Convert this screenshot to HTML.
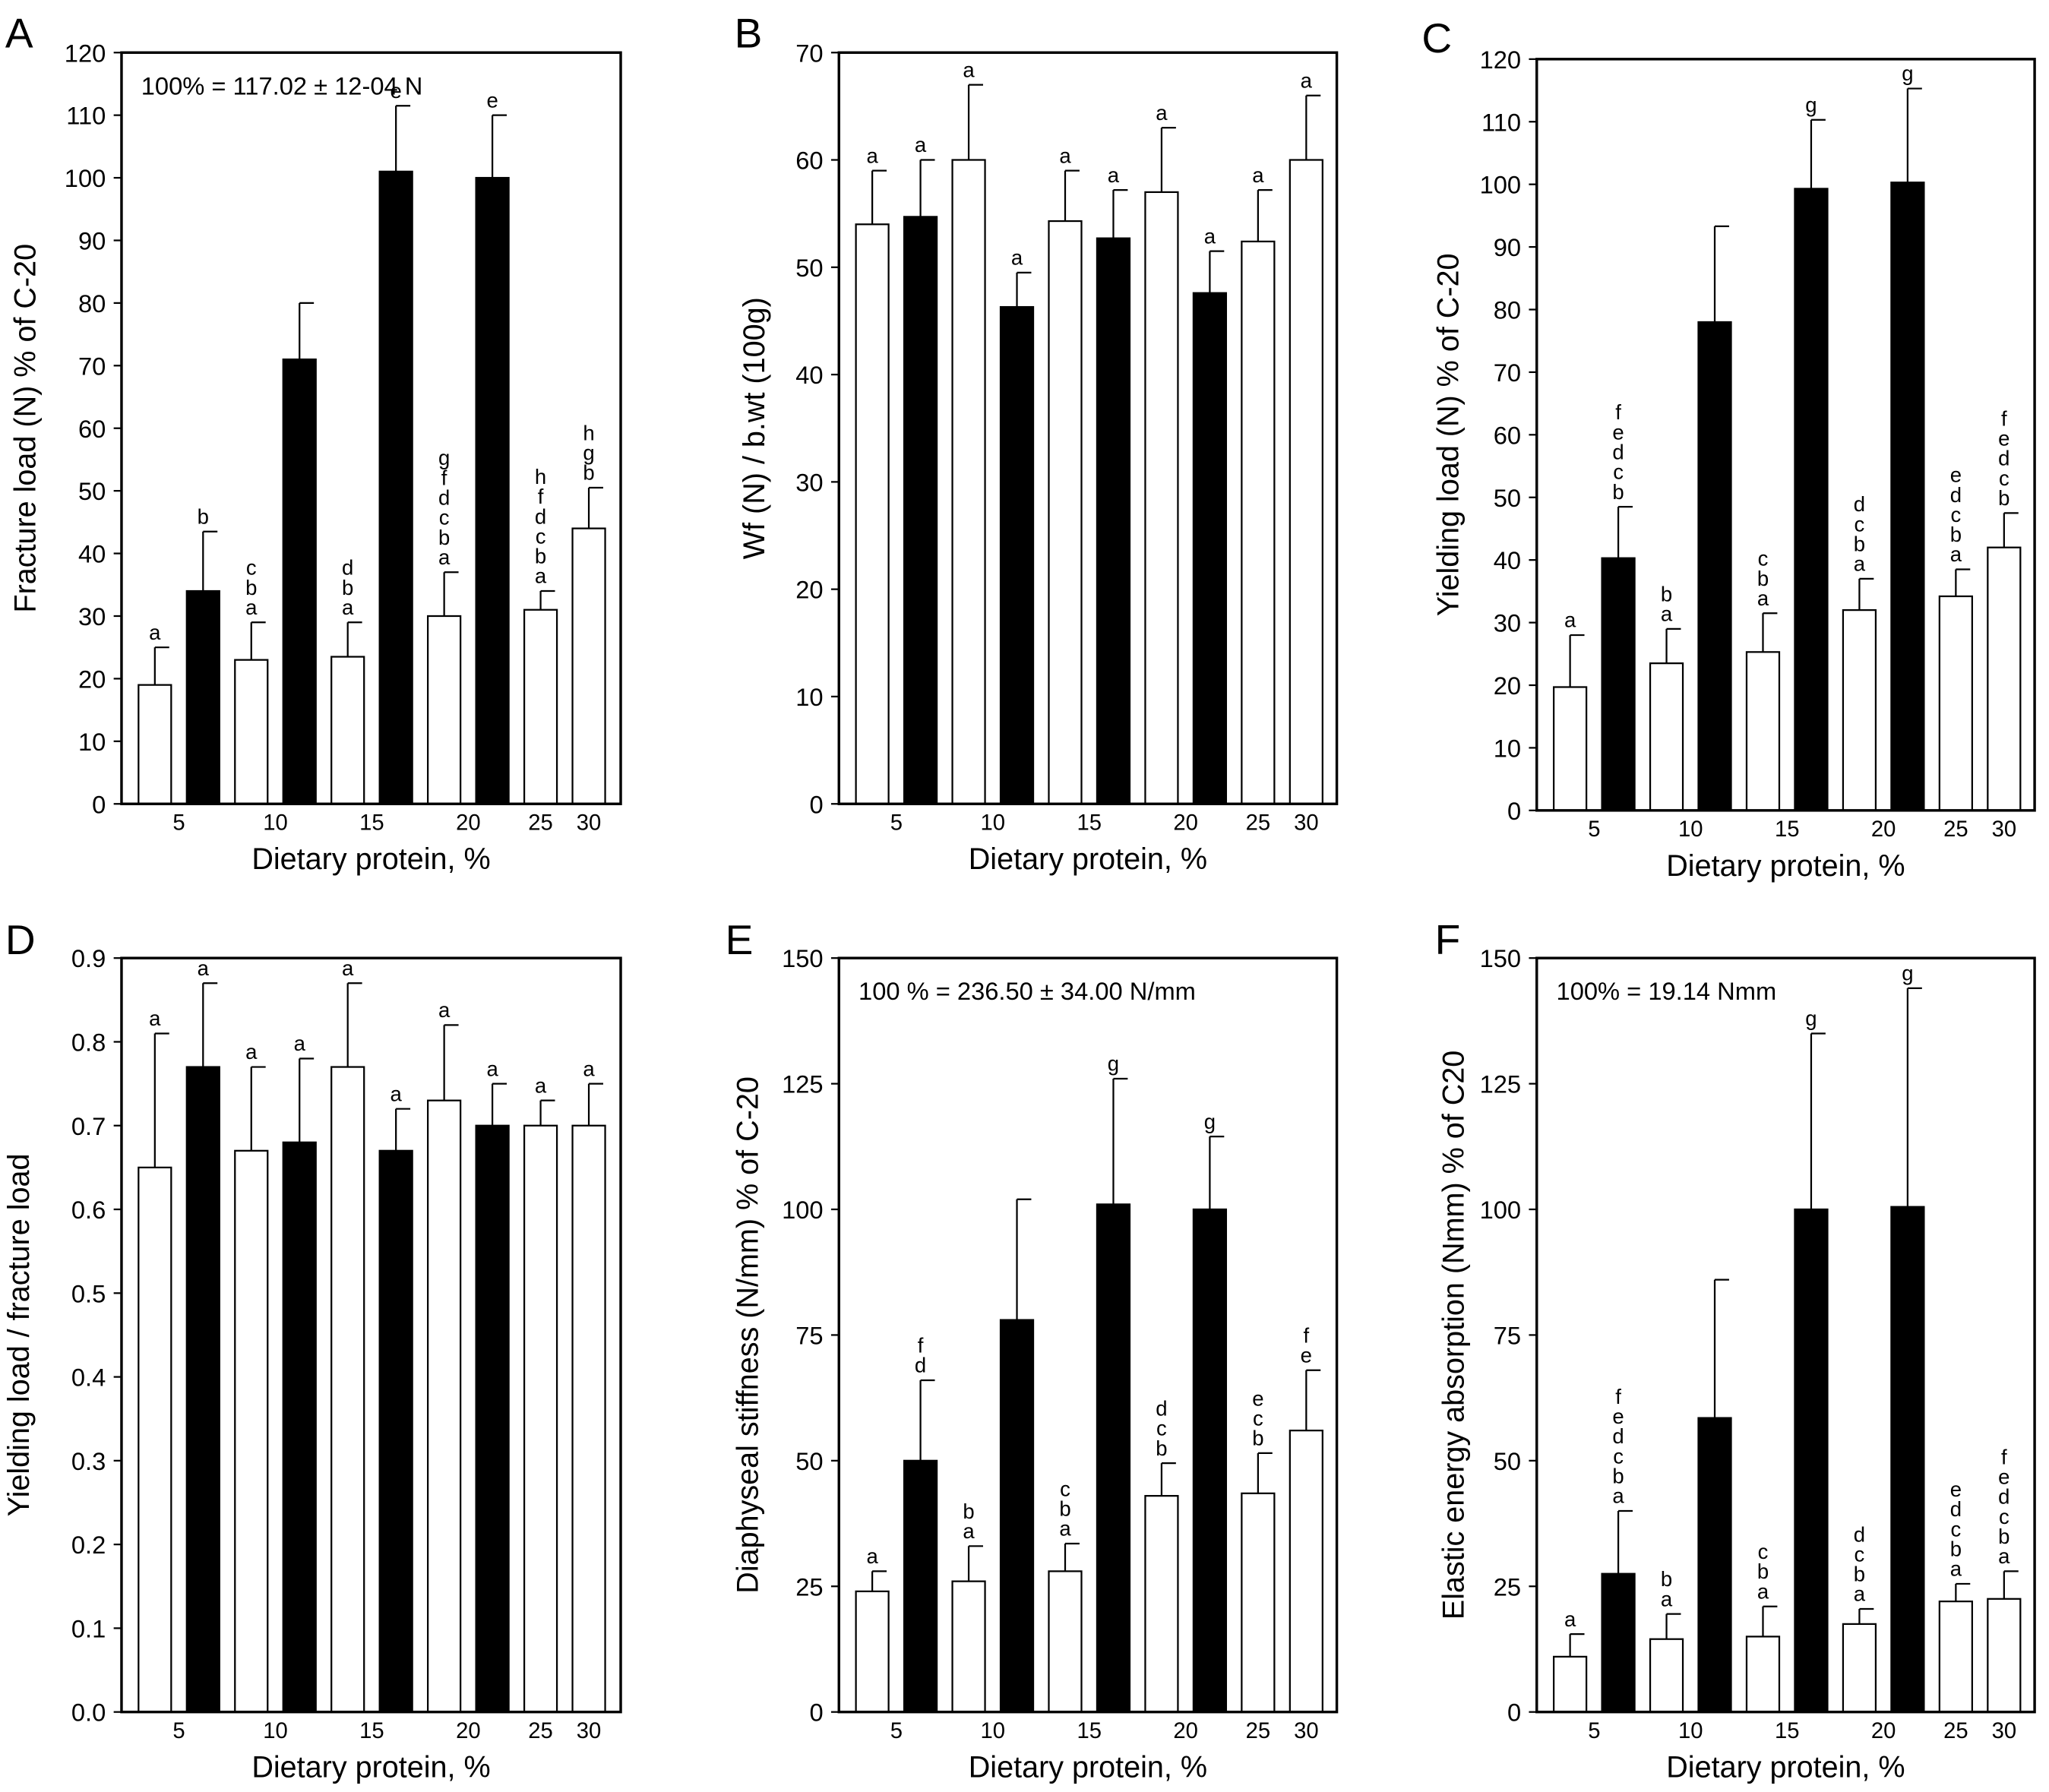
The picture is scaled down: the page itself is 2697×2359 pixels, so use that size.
<!DOCTYPE html>
<html><head><meta charset="utf-8"><style>
html,body{margin:0;padding:0;background:#fff;}
svg{display:block;font-family:"Liberation Sans",Arial,sans-serif;}
</style></head><body>
<svg id="fig" width="2697" height="2359" viewBox="0 0 1568 1371" xmlns="http://www.w3.org/2000/svg"></svg>
<script>
const categories = ["5","10","15","20","25","30"];
const catIndex = [0.5, 2.5, 4.5, 6.5, 8, 9];
const fills = ["w","b","w","b","w","b","w","b","w","w"];

const aValues = [19,34,23,71,23.5,101,30,100,31,44];
const aErrors = [25,43.5,29,80,29,111.5,37,110,34,50.5];
const aLetters = [["a"],["b"],["c","b","a"],[],["d","b","a"],["e"],["g","f","d","c","b","a"],["e"],["h","f","d","c","b","a"],["h","g","b"]];
const aTicks = [0,10,20,30,40,50,60,70,80,90,100,110,120];

const bValues = [54,54.7,60,46.3,54.3,52.7,57,47.6,52.4,60];
const bErrors = [59,60,67,49.5,59,57.2,63,51.5,57.2,66];
const bLetters = [["a"],["a"],["a"],["a"],["a"],["a"],["a"],["a"],["a"],["a"]];
const bTicks = [0,10,20,30,40,50,60,70];

const cValues = [19.7,40.3,23.5,78,25.3,99.3,32,100.3,34.2,42];
const cErrors = [28,48.5,29,93.3,31.5,110.3,37,115.3,38.5,47.5];
const cLetters = [["a"],["f","e","d","c","b"],["b","a"],[],["c","b","a"],["g"],["d","c","b","a"],["g"],["e","d","c","b","a"],["f","e","d","c","b"]];
const cTicks = [0,10,20,30,40,50,60,70,80,90,100,110,120];

const dValues = [0.65,0.77,0.67,0.68,0.77,0.67,0.73,0.70,0.70,0.70];
const dErrors = [0.81,0.87,0.77,0.78,0.87,0.72,0.82,0.75,0.73,0.75];
const dLetters = [["a"],["a"],["a"],["a"],["a"],["a"],["a"],["a"],["a"],["a"]];
const dTicks = [0,0.1,0.2,0.3,0.4,0.5,0.6,0.7,0.8,0.9];

const eValues = [24,50,26,78,28,101,43,100,43.5,56];
const eErrors = [28,66,33,102,33.5,126,49.5,114.5,51.5,68];
const eLetters = [["a"],["f","d"],["b","a"],[],["c","b","a"],["g"],["d","c","b"],["g"],["e","c","b"],["f","e"]];
const eTicks = [0,25,50,75,100,125,150];

const fValues = [11,27.5,14.5,58.5,15,100,17.5,100.5,22,22.5];
const fErrors = [15.5,40,19.5,86,21,135,20.5,144,25.5,28];
const fLetters = [["a"],["f","e","d","c","b","a"],["b","a"],[],["c","b","a"],["g"],["d","c","b","a"],["g"],["e","d","c","b","a"],["f","e","d","c","b","a"]];
const fTicks = [0,25,50,75,100,125,150];

const NS="http://www.w3.org/2000/svg";
const svg=document.getElementById('fig');
function mk(tag,attrs,parent,text){const e=document.createElementNS(NS,tag);for(const k in attrs)e.setAttribute(k,attrs[k]);if(text!==undefined)e.textContent=text;(parent||svg).appendChild(e);return e;}

function panel(p){
  const g=mk('g',{});
  
  
  const L=p.x0,R=p.x1,T=p.y0,B=p.y1;
  const ys=v=>B-(v-p.min)/(p.max-p.min)*(B-T);
  const xs=i=>L+25.5+i*36.9;
  const t=mk('text',{x:p.lx,y:p.ly,'font-size':32},g,p.id);
  
  
  p.values.forEach((v,i)=>{
    const x=xs(i),top=ys(v),et=ys(p.errors[i]);
    const ln=mk('line',{x1:x,x2:x,y1:top,y2:et,stroke:'#000','stroke-width':1.3},g);
    
    
    const cap=mk('line',{x1:x,x2:x+11,y1:et,y2:et,stroke:'#000','stroke-width':1.3},g);
    
    
    const r=mk('rect',{x:x-12.5,y:top,width:25,height:B-top,fill:fills[i]==='b'?'#000':'#fff',stroke:'#000','stroke-width':1.3},g);
    
    
    const lets=p.letters[i];
    lets.forEach((l,k)=>{
      const yy=et-6-(lets.length-1-k)*15.2;
      const tt=mk('text',{x:x,y:yy,'font-size':16,'text-anchor':'middle'},g,l);
      
      
    });
  });
  const bx=mk('rect',{x:L,y:T,width:R-L,height:B-T,fill:'none',stroke:'#000','stroke-width':2},g);
  
  
  p.ticks.forEach(v=>{
    const y=ys(v);
    const tk=mk('line',{x1:L-6,x2:L,y1:y,y2:y,stroke:'#000','stroke-width':1.3},g);
    
    
    const tl=mk('text',{x:L-12,y:y+7,'font-size':19,'text-anchor':'end'},g,p.fmt?p.fmt(v):String(v));
    
    
  });
  categories.forEach((c,k)=>{
    const x=xs(catIndex[k]);
    const tl=mk('text',{x:x,y:B+20,'font-size':17,'text-anchor':'middle'},g,c);
    
    
  });
  const xl=mk('text',{x:(L+R)/2,y:B+50,'font-size':23,'text-anchor':'middle'},g,'Dietary protein, %');
  
  
  const yx=p.ylx,yy=(T+B)/2;
  const yl=mk('text',{x:yx,y:yy,'font-size':23,'text-anchor':'middle',transform:`rotate(-90 ${yx} ${yy})`},g,p.ylabel);
  
  
  if(p.note){
    const n=mk('text',{x:L+15,y:T+32,'font-size':19},g,p.note);
    
    
  }
}
const fmt1=v=>v.toFixed(1);
panel({id:'A',x0:93,x1:475,y0:40,y1:615,min:0,max:120,values:aValues,errors:aErrors,letters:aLetters,ticks:aTicks,lx:4,ly:36,ylx:27,ylabel:'Fracture load (N) % of C-20',note:'100% = 117.02 ± 12-04 N'});
panel({id:'B',x0:642,x1:1023,y0:40,y1:615,min:0,max:70,values:bValues,errors:bErrors,letters:bLetters,ticks:bTicks,lx:562,ly:36,ylx:585,ylabel:'Wf (N) / b.wt (100g)'});
panel({id:'C',x0:1176,x1:1557,y0:45,y1:620,min:0,max:120,values:cValues,errors:cErrors,letters:cLetters,ticks:cTicks,lx:1088,ly:40,ylx:1116,ylabel:'Yielding load (N) % of C-20'});
panel({id:'D',x0:93,x1:475,y0:733,y1:1310,min:0,max:0.9,values:dValues,errors:dErrors,letters:dLetters,ticks:dTicks,fmt:fmt1,lx:4,ly:730,ylx:22,ylabel:'Yielding load / fracture load'});
panel({id:'E',x0:642,x1:1023,y0:733,y1:1310,min:0,max:150,values:eValues,errors:eErrors,letters:eLetters,ticks:eTicks,lx:555,ly:730,ylx:580,ylabel:'Diaphyseal stiffness (N/mm) % of C-20',note:'100 % = 236.50 ± 34.00 N/mm'});
panel({id:'F',x0:1176,x1:1557,y0:733,y1:1310,min:0,max:150,values:fValues,errors:fErrors,letters:fLetters,ticks:fTicks,lx:1098,ly:730,ylx:1120,ylabel:'Elastic energy absorption (Nmm) % of C20',note:'100% = 19.14 Nmm'});
</script>
</body></html>
